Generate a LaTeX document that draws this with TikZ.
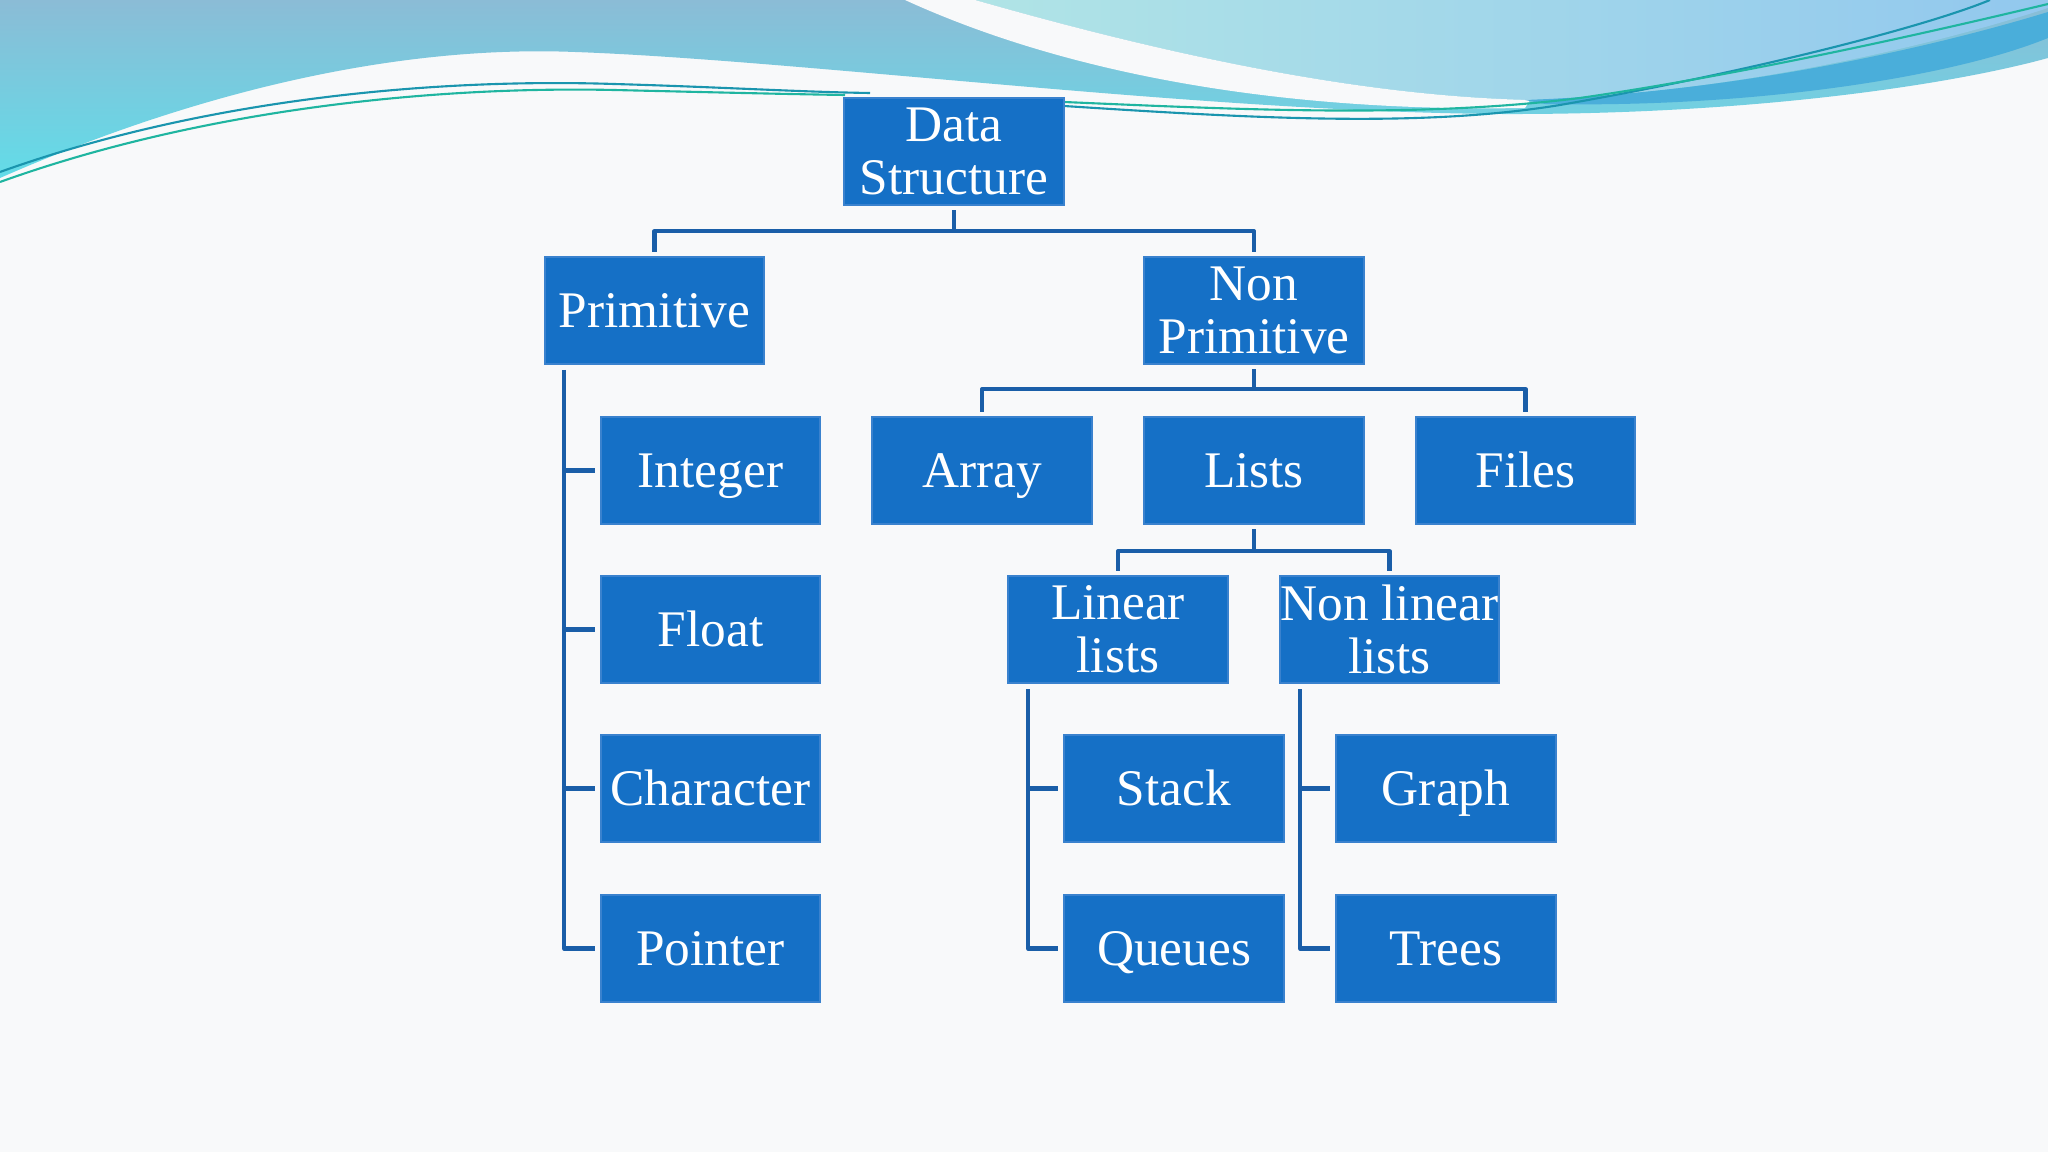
\documentclass[tikz,border=0pt]{standalone}
\usepackage{fontspec}
\setmainfont{Liberation Serif}
\usetikzlibrary{calc}
\definecolor{bg}{HTML}{F8F9FA}
\definecolor{boxblue}{HTML}{1570C6}
\definecolor{boxedge}{HTML}{3A82CE}
\definecolor{connblue}{HTML}{1A5EA8}
\definecolor{waveTop}{HTML}{8BBCD6}
\definecolor{waveBot}{HTML}{62DCE8}
\definecolor{lightA}{HTML}{B0E4E6}
\definecolor{lightB}{HTML}{92C8EE}
\definecolor{stripe}{HTML}{4AAEDA}
\definecolor{tealA}{HTML}{1FB5A0}
\definecolor{tealB}{HTML}{1A95AE}
\tikzset{
  dsbox/.style={rectangle, fill=boxblue, draw=boxedge, line width=0.6pt,
    minimum width=2.195cm, minimum height=1.07cm, inner sep=0pt,
    text=white, align=center, font=\fontsize{14.6}{15}\selectfont},
  oneline/.style={dsbox, text height=11.5pt, text depth=2pt},
  conn/.style={draw=connblue, line width=1.15pt, line join=round},
  tline/.style={line width=0.6pt}
}
\begin{document}
\begin{tikzpicture}[x=0.01cm, y=-0.01cm]
\useasboundingbox (0,0) rectangle (2048,1152);
\fill[bg] (0,0) rectangle (2048,1152);
% main wave
\shade[top color=waveTop, bottom color=waveBot]
  (0,0) -- (0,178) .. controls (200,90) and (400,45) .. (575,52)
  .. controls (800,60) and (1200,112) .. (1500,114)
  .. controls (1750,115) and (1950,85) .. (2048,58) -- (2048,0) -- cycle;
% light top-right region
\shade[left color=lightA, right color=lightB]
  (975,0) .. controls (1150,50) and (1350,96) .. (1530,100)
  .. controls (1750,92) and (1950,40) .. (2048,8) -- (2048,0) -- cycle;
% white swoosh
\fill[bg] (905,0) .. controls (1080,80) and (1300,112) .. (1525,108)
  -- (1530,100) .. controls (1350,96) and (1150,50) .. (975,0) -- cycle;
% darker stripe
\fill[stripe] (1525,100) .. controls (1750,92) and (1950,42) .. (2048,12)
  -- (2048,38) .. controls (1950,78) and (1750,108) .. (1545,104) -- cycle;
% teal lines
\draw[tline, tealB] (0,172) .. controls (200,100) and (430,78) .. (614,84) .. controls (720,87) and (800,92) .. (870,93);
\draw[tline, tealA] (0,182) .. controls (200,110) and (430,86) .. (614,90) .. controls (700,92) and (780,94) .. (845,95);
\draw[tline, tealB] (1064,106) .. controls (1250,118) and (1420,128) .. (1560,105) .. controls (1760,70) and (1930,25) .. (1990,0);
\draw[tline, tealA] (1064,102) .. controls (1250,110) and (1420,118) .. (1580,98) .. controls (1760,72) and (1960,25) .. (2048,4);

% nodes
\node[dsbox] (ds) at (954,151.5) {Data\\Structure};
\node[oneline] (prim) at (654.5,310.5) {Primitive};
\node[dsbox] (nonp) at (1254,310.5) {Non\\Primitive};
\node[oneline] (int) at (710.5,470.5) {Integer};
\node[oneline] (float) at (710.5,629.5) {Float};
\node[oneline] (char) at (710.5,788.5) {Character};
\node[oneline] (ptr) at (710.5,948.5) {Pointer};
\node[oneline] (array) at (982,470.5) {Array};
\node[oneline] (lists) at (1254,470.5) {Lists};
\node[oneline] (files) at (1525.5,470.5) {Files};
\node[dsbox] (lin) at (1118,629.5) {Linear\\lists};
\node[dsbox] (nonlin) at (1389.5,629.5) {Non linear\\lists};
\node[oneline] (stack) at (1174,788.5) {Stack};
\node[oneline] (queues) at (1174,948.5) {Queues};
\node[oneline] (graph) at (1446,788.5) {Graph};
\node[oneline] (trees) at (1446,948.5) {Trees};

% bus coordinates
\coordinate (b1) at (954,231);
\coordinate (b2) at (1254,389);
\coordinate (b3) at (1254,551);
\coordinate (ps) at (564,370);
\coordinate (ls) at (1028,689);
\coordinate (ns) at (1300,689);

% connectors
\draw[conn] ([yshift=-0.04cm]ds.south) -- (b1);
\draw[conn] ([yshift=0.04cm]prim.north) |- (b1) -| ([yshift=0.04cm]nonp.north);
\draw[conn] ([yshift=-0.04cm]nonp.south) -- (b2);
\draw[conn] ([yshift=0.04cm]array.north) |- (b2) -| ([yshift=0.04cm]files.north);
\draw[conn] ([yshift=-0.04cm]lists.south) -- (b3);
\draw[conn] ([yshift=0.04cm]lin.north) |- (b3) -| ([yshift=0.04cm]nonlin.north);

\draw[conn] (ps) |- ([xshift=-0.05cm]ptr.west);
\foreach \n in {int,float,char} \draw[conn] (ps |- \n.west) -- ([xshift=-0.05cm]\n.west);
\draw[conn] (ls) |- ([xshift=-0.05cm]queues.west);
\draw[conn] (ls |- stack.west) -- ([xshift=-0.05cm]stack.west);
\draw[conn] (ns) |- ([xshift=-0.05cm]trees.west);
\draw[conn] (ns |- graph.west) -- ([xshift=-0.05cm]graph.west);
\end{tikzpicture}
\end{document}
